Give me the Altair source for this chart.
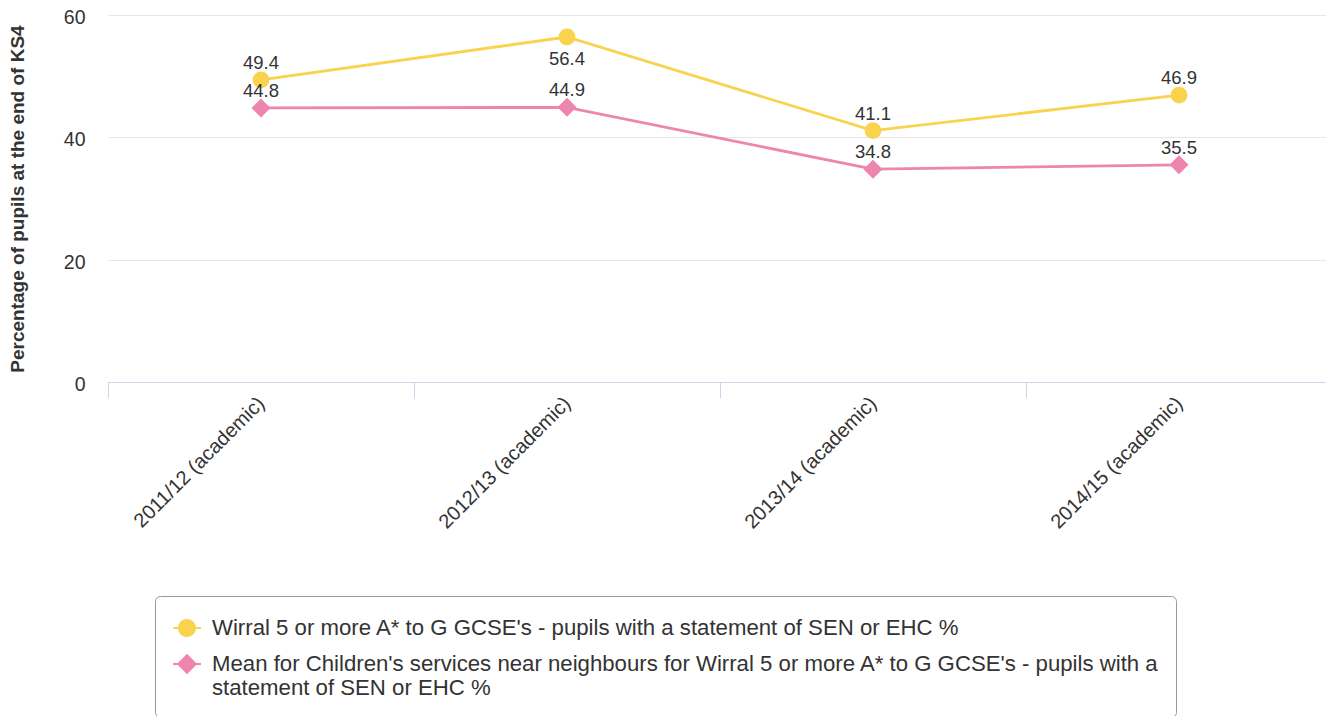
import altair as alt
import pandas as pd

years = ["2011/12 (academic)", "2012/13 (academic)", "2013/14 (academic)", "2014/15 (academic)"]
series = [
    "Wirral 5 or more A* to G GCSE's - pupils with a statement of SEN or EHC %",
    "Mean for Children's services near neighbours for Wirral 5 or more A* to G GCSE's - pupils with a statement of SEN or EHC %",
]
wirral = [49.4, 56.4, 41.1, 46.9]
neighbours = [44.8, 44.9, 34.8, 35.5]
colors = ["#F9D24E", "#EE85AE"]
y_ticks = [0, 20, 40, 60]

rows = []
for name, vals in zip(series, [wirral, neighbours]):
    for yr, v in zip(years, vals):
        rows.append({"year": yr, "series": name, "value": v})
df = pd.DataFrame(rows)

# legend symbols: marker with a line through it (unit-square paths)
legend_shapes = [
    "M-0.93,-0.067H0.93V0.067H-0.93Z M0.6,0 A0.6,0.6 0 1,1 -0.6,0 A0.6,0.6 0 1,1 0.6,0 Z",
    "M-0.93,-0.067H0.93V0.067H-0.93Z M0,-0.68 L0.68,0 L0,0.68 L-0.68,0 Z",
]

brk = series[1].index(" statement")
label_expr = (
    f"indexof(datum.label, 'near neighbours') >= 0 ? "
    f"[slice(datum.label, 0, {brk}), slice(datum.label, {brk + 1})] : datum.label"
)


def build(use_encode):
    x_enc = alt.X(
        "year:N",
        sort=years,
        scale=alt.Scale(type="band", domain=years, paddingInner=0, paddingOuter=0),
        axis=alt.Axis(
            title=None,
            labelAngle=-45,
            labelAlign="right",
            labelBaseline="middle",
            labelFontSize=20,
            labelColor="#333333",
            labelPadding=2,
            tickBand="extent",
            tickSize=16,
            tickColor="#ccd6eb",
            domainColor="#ccd6eb",
            grid=False,
        ),
    )
    y_enc = alt.Y(
        "value:Q",
        scale=alt.Scale(domain=[0, 60], nice=False),
        axis=alt.Axis(
            values=y_ticks,
            title="Percentage of pupils at the end of KS4",
            titleFontWeight="bold",
            titleFontSize=19,
            titleColor="#333333",
            titlePadding=36,
            labelFontSize=19.5,
            labelColor="#333333",
            labelPadding=23,
            labelOffset=2.5,
            domain=False,
            ticks=False,
            gridColor="#e6e6e6",
        ),
    )
    color_scale = alt.Scale(domain=series, range=colors)

    legend_kwargs = dict(
        title=None,
        orient="none",
        legendX=47,
        legendY=581,
        labelExpr=label_expr,
        labelLimit=1200,
        labelFontSize=22.2,
        labelColor="#333333",
        labelOffset=10,
        symbolSize=900,
        symbolStrokeWidth=0,
        symbolOpacity=1,
        padding=17,
        rowPadding=9,
        strokeColor="#999999",
        cornerRadius=5,
        fillColor="white",
    )
    if use_encode:
        legend_kwargs["labelBaseline"] = "top"
        legend_kwargs["encode"] = {
            "labels": {"update": {"lineHeight": {"value": 25}, "dy": {"value": -9}}}
        }
    else:
        legend_kwargs["labelBaseline"] = "middle"
    legend = alt.Legend(**legend_kwargs)

    base = alt.Chart(df)
    s0 = base.transform_filter(alt.datum.series == series[0])
    s1 = base.transform_filter(alt.datum.series == series[1])

    line0 = s0.mark_line(strokeWidth=2.8, color=colors[0]).encode(x=x_enc, y=y_enc)
    line1 = s1.mark_line(strokeWidth=2.8, color=colors[1]).encode(x=x_enc, y=y_enc)

    circles = s0.mark_point(
        shape="circle", filled=True, size=284, opacity=1, color=colors[0]
    ).encode(x=x_enc, y=y_enc)

    diamonds = s1.mark_point(
        shape="diamond", filled=True, size=360, opacity=1, color=colors[1]
    ).encode(x=x_enc, y=y_enc)

    # legend-only layer: no rows drawn, the legend comes from the fixed scale domains
    legend_layer = base.transform_filter(alt.datum.value < 0).mark_point(
        filled=True
    ).encode(
        x=x_enc, y=y_enc,
        color=alt.Color("series:N", scale=color_scale, legend=legend),
        shape=alt.Shape("series:N", scale=alt.Scale(domain=series, range=legend_shapes), legend=legend),
    )

    labels_above = base.transform_filter(alt.datum.value < 55).mark_text(
        baseline="bottom", dy=-7, fontSize=18.5, color="#333333"
    ).encode(x=x_enc, y=y_enc, text=alt.Text("value:Q", format=".1f"))

    labels_below = base.transform_filter(alt.datum.value >= 55).mark_text(
        baseline="top", dy=13, fontSize=18.5, color="#333333"
    ).encode(x=x_enc, y=y_enc, text=alt.Text("value:Q", format=".1f"))

    return alt.layer(
        line0, line1, circles, diamonds, legend_layer, labels_above, labels_below
    ).properties(
        width=1224,
        height=367,
        autosize=alt.AutoSizeParams(type="none"),
        padding={"left": 100, "top": 7, "right": -6, "bottom": 342},
    ).configure(
        font="Liberation Sans",
    ).configure_view(
        stroke=None,
    )


try:
    chart = build(True)
    chart.to_dict()
except Exception:
    chart = build(False)

chart.save("out.html", embed_options={"renderer": "svg", "actions": False})
